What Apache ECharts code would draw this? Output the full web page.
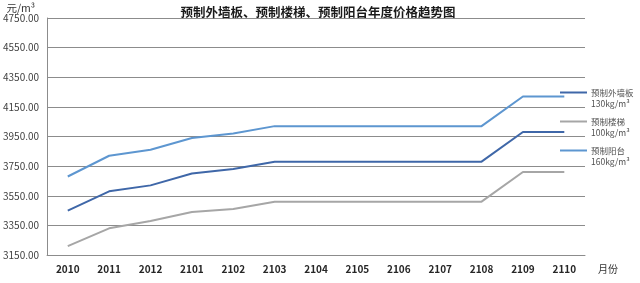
<!DOCTYPE html>
<html>
<head>
<meta charset="utf-8">
<script src="https://cdn.jsdelivr.net/npm/echarts@6/dist/echarts.min.js"></script>
<style>
html,body{margin:0;padding:0;background:#fff;}
#c{width:640px;height:283px;}
</style>
</head>
<body>
<div id="c"></div>
<script>
var categories = ['2010','2011','2012','2101','2102','2103','2104','2105','2106','2107','2108','2109','2110'];
var seriesNames = ['预制外墙板', '预制楼梯', '预制阳台'];
var seriesSub = ['130kg/m³', '100kg/m³', '160kg/m³'];
var wallPanel = [3450,3580,3620,3700,3730,3780,3780,3780,3780,3780,3780,3980,3980];
var stairs    = [3210,3330,3380,3440,3460,3510,3510,3510,3510,3510,3510,3710,3710];
var balcony   = [3680,3820,3860,3940,3970,4020,4020,4020,4020,4020,4020,4220,4220];
var yMin = 3150, yMax = 4750, yStep = 200;

var colors = ['#3f67a8', '#a6a6a6', '#5d96d0'];
var font = '"Noto Sans CJK SC", "Noto Sans", sans-serif';
var chart = echarts.init(document.getElementById('c'), null, {renderer:'canvas'});
var subMap = {};
seriesNames.forEach(function(n,i){ subMap[n] = seriesSub[i]; });

chart.setOption({
  animation: false,
  backgroundColor: '#fff',
  textStyle: {fontFamily: font},
  title: {
    text: '预制外墙板、预制楼梯、预制阳台年度价格趋势图',
    left: 313, top: 1, textAlign: 'center',
    textStyle: {fontSize: 12.5, fontWeight: 'bold', color: '#1a1a1a', fontFamily: font}
  },
  grid: {left: 44, right: 55, top: 18, bottom: 28},
  legend: {
    orient: 'vertical',
    left: 555, top: 71,
    itemWidth: 27, itemHeight: 14, itemGap: -4,
    icon: 'path://M0,6 L27,6 L27,8 L0,8 Z',
    data: seriesNames,
    formatter: function(n){ return '\n' + n + '\n' + subMap[n]; },
    textStyle: {fontSize: 8.5, color: '#505050', lineHeight: 11, fontFamily: font, padding: [0,0,0,-1]}
  },
  xAxis: {
    type: 'category',
    data: categories,
    boundaryGap: true,
    name: '月份',
    nameLocation: 'end',
    nameGap: 13,
    nameTextStyle: {fontSize: 10, color: '#333', verticalAlign: 'top', padding: [9,0,0,0]},
    axisLine: {lineStyle: {color: '#8c8c8c', width: 1}},
    axisTick: {alignWithLabel: true, inside: true, length: 3, lineStyle: {color: '#8c8c8c'}},
    axisLabel: {fontSize: 10, color: '#262626', margin: 9, fontWeight: 'bold'},
    splitLine: {show: false}
  },
  yAxis: {
    type: 'value',
    min: yMin, max: yMax, interval: yStep,
    name: '元/m³',
    nameLocation: 'end',
    nameGap: 5,
    nameTextStyle: {fontSize: 10.5, color: '#333', align: 'right', padding: [0,12,0,0]},
    axisLine: {show: true, lineStyle: {color: '#8c8c8c', width: 1}},
    axisTick: {show: false},
    axisLabel: {fontSize: 10, color: '#404040', margin: 8, formatter: function(v){ return v.toFixed(2); }},
    splitLine: {show: true, lineStyle: {color: '#8c8c8c', width: 1}}
  },
  series: [
    {name: seriesNames[0], type: 'line', data: wallPanel, symbol: 'none', lineStyle: {width: 2, color: colors[0]}, itemStyle: {color: colors[0]}},
    {name: seriesNames[1], type: 'line', data: stairs, symbol: 'none', lineStyle: {width: 2, color: colors[1]}, itemStyle: {color: colors[1]}},
    {name: seriesNames[2], type: 'line', data: balcony, symbol: 'none', lineStyle: {width: 2, color: colors[2]}, itemStyle: {color: colors[2]}}
  ]
});
</script>
</body>
</html>
